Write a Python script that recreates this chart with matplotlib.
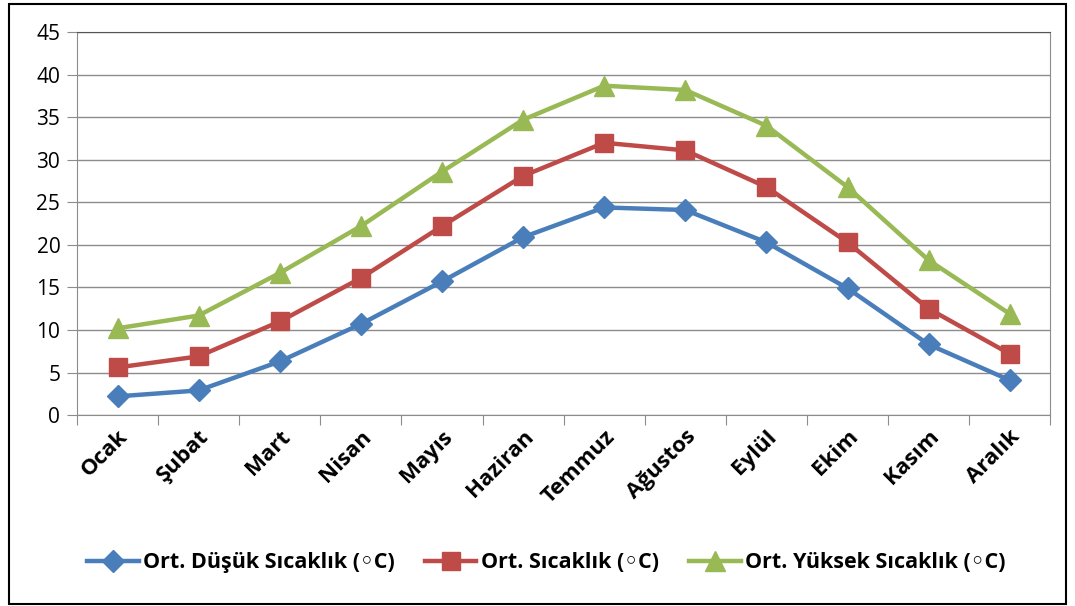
import matplotlib.pyplot as plt
from matplotlib.patches import Rectangle

plt.rcParams['font.family'] = ['Open Sans', 'DejaVu Sans']

# Data
months = ["Ocak", "Şubat", "Mart", "Nisan", "Mayıs", "Haziran",
          "Temmuz", "Ağustos", "Eylül", "Ekim", "Kasım", "Aralık"]
low_temp = [2.2, 2.9, 6.3, 10.7, 15.7, 20.9, 24.4, 24.1, 20.3, 14.9, 8.3, 4.1]
avg_temp = [5.6, 6.9, 11.0, 16.1, 22.2, 28.1, 32.0, 31.1, 26.8, 20.3, 12.5, 7.2]
high_temp = [10.2, 11.7, 16.7, 22.2, 28.6, 34.7, 38.7, 38.2, 34.0, 26.8, 18.2, 11.9]
y_ticks = [0, 5, 10, 15, 20, 25, 30, 35, 40, 45]

fig = plt.figure(figsize=(10.75, 6.06), dpi=100)
ax = fig.add_axes([0.0716, 0.315, 0.9054, 0.632])

x = list(range(len(months)))
ax.plot(x, low_temp, color='#4A7EBB', lw=3.2, marker='D', ms=11, label='Ort. Düşük Sıcaklık (◦C)')
ax.plot(x, avg_temp, color='#BE4B48', lw=3.2, marker='s', ms=13, label='Ort. Sıcaklık (◦C)')
ax.plot(x, high_temp, color='#98B954', lw=3.2, marker='^', ms=14, label='Ort. Yüksek Sıcaklık (◦C)')

ax.set_xlim(-0.5, len(months) - 0.5)
ax.set_ylim(0, 45)
ax.set_yticks(y_ticks)
ax.set_yticklabels([str(v) for v in y_ticks], fontsize=15)
ax.yaxis.grid(True, color='#8c8c8c', lw=1)
ax.set_axisbelow(True)

# category ticks at boundaries, labels at centres
ax.set_xticks([i - 0.5 for i in range(len(months) + 1)])
ax.set_xticklabels([])
ax.set_xticks(x, minor=True)
ax.set_xticklabels(months, minor=True, rotation=45, ha='right', rotation_mode='anchor',
                   fontsize=16, fontweight='bold')
ax.tick_params(axis='x', which='minor', length=0, pad=8)
ax.tick_params(axis='x', which='major', length=7, color='#8c8c8c')
ax.tick_params(axis='y', length=7, color='#8c8c8c', pad=5)

for s in ['left', 'bottom', 'right']:
    ax.spines[s].set_color('#8c8c8c')
ax.spines['top'].set_color('#555555')

fig.legend(loc='center', bbox_to_anchor=(0.508, 0.071), ncol=3, frameon=False,
           prop={'size': 15.5, 'weight': 'bold'}, handlelength=2.4, columnspacing=1.4,
           handletextpad=0.2)

fig.patches.append(Rectangle((0.008, 0.004), 0.984, 0.99, transform=fig.transFigure,
                             fill=False, edgecolor='black', lw=1.5))

fig.savefig('out.png', dpi=100)
